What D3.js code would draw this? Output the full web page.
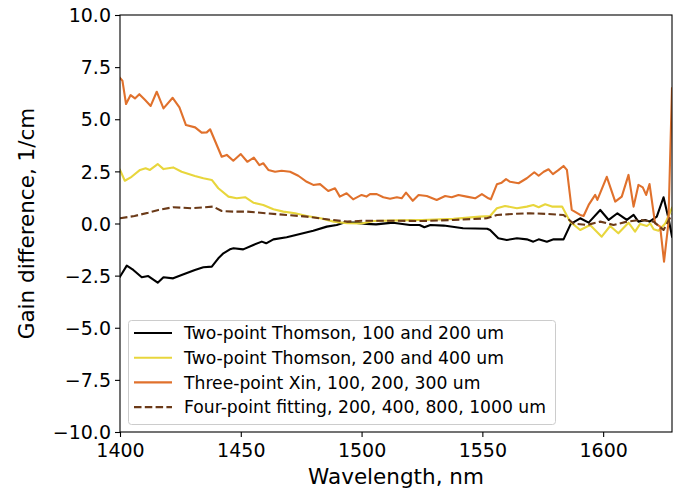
<!DOCTYPE html>
<html><head><meta charset="utf-8">
<script src="https://cdn.jsdelivr.net/npm/d3@7"></script>
<style>body{margin:0;background:#fff}svg{display:block}text{font-family:"DejaVu Sans",sans-serif}</style>
</head><body><svg id="c" width="689" height="491"></svg>
<script>
const xTicks=[1400,1450,1500,1550,1600];
const yTicks=[-10,-7.5,-5,-2.5,0,2.5,5,7.5,10];
const seriesNames=["Two-point Thomson, 100 and 200 um","Two-point Thomson, 200 and 400 um","Three-point Xin, 100, 200, 300 um","Four-point fitting, 200, 400, 800, 1000 um"];
const seriesColors=["#000000","#e8d63c","#e0712c","#6b3a18"];

const blackX=[1400,1402.8,1405.5,1409,1411.7,1415.6,1418,1422,1425.5,1431,1434.5,1438,1440.7,1442.8,1445.5,1447,1451,1455.2,1458.7,1460.5,1463.5,1469,1474.5,1480,1485.6,1489.7,1492.5,1497,1502,1506,1513,1520,1524,1526,1528.5,1534,1542,1552,1553.2,1556.6,1560.1,1564.3,1568.4,1571.1,1573.3,1576.7,1579.5,1583.6,1586.6,1590.5,1594,1598.8,1602.3,1605.9,1609.8,1612.6,1614.6,1617.4,1619.2,1622.2,1625,1627.2,1628.5];
const blackY=[-2.55,-2.02,-2.23,-2.58,-2.52,-2.84,-2.58,-2.63,-2.47,-2.23,-2.1,-2.07,-1.67,-1.43,-1.24,-1.19,-1.24,-1.03,-0.87,-0.95,-0.76,-0.66,-0.5,-0.35,-0.15,-0.07,0.04,0.04,-0.02,-0.04,0.04,-0.07,-0.07,-0.18,-0.07,-0.1,-0.23,-0.25,-0.31,-0.71,-0.79,-0.71,-0.76,-0.87,-0.76,-0.87,-0.76,-0.76,-0.02,0.25,0.04,0.65,0.17,0.49,0.17,0.41,0.09,0.17,0.09,0.33,1.26,0.17,-0.63];

const yellowX=[1400,1402,1404.8,1408.3,1410.6,1412.4,1415.6,1418,1422,1425.5,1431,1434.5,1438,1440.7,1444.9,1448.3,1451.8,1455.2,1459.3,1463.5,1467.6,1472.5,1477.3,1483,1488.5,1494,1500,1505,1515,1525,1538,1549,1553.2,1556,1559.4,1564.3,1568.4,1571.1,1573.3,1576,1578.8,1583,1586.3,1590.5,1594.6,1599.4,1602.9,1606.3,1610.5,1613.2,1615.3,1618.1,1619.5,1620.9,1622.9,1625.7,1628.5];
const yellowY=[2.57,2.05,2.24,2.57,2.65,2.57,2.85,2.61,2.69,2.48,2.28,2.17,2.09,1.69,1.29,1.21,1.26,1.0,0.89,0.68,0.57,0.49,0.36,0.25,0.09,0.01,0.0,0.12,0.15,0.17,0.22,0.33,0.36,0.73,0.84,0.73,0.81,0.89,0.78,0.92,0.81,0.81,0.09,-0.31,-0.07,-0.63,-0.12,-0.47,0.04,-0.39,-0.02,-0.12,0.0,-0.28,-0.35,0.0,0.75];

const orangeX=[1400,1401,1402.5,1404.4,1406.2,1408,1410.4,1412.7,1415.2,1418,1421.8,1424.6,1427.3,1431.1,1433.8,1435.9,1437.3,1442.1,1444.2,1446.9,1450,1452.7,1455.4,1457.7,1459.3,1461.4,1464.2,1466.9,1470.4,1473.8,1477.3,1480,1482.8,1486.2,1489,1491,1493.8,1496.5,1500,1502,1503.5,1506.3,1509,1511.8,1514.6,1516.6,1518.4,1521.2,1523.6,1527,1531.1,1534.6,1537.3,1540.1,1543.5,1547,1549.8,1552.5,1553.5,1556,1558,1559.8,1561.5,1565,1568.4,1571.5,1573.3,1575.4,1577.4,1579.2,1581.6,1583.6,1585,1587,1590.5,1591.9,1594,1596.7,1597.6,1601.5,1605,1607.7,1610.5,1612.6,1614.6,1616.4,1617.8,1619.2,1621.5,1623.6,1625.2,1627,1628.5];
const orangeY=[6.98,6.85,5.73,6.16,6.0,6.2,5.92,5.64,6.32,5.52,6.03,5.57,4.72,4.61,4.36,4.37,4.52,3.2,3.29,3.01,3.33,2.96,3.16,2.8,2.89,2.57,2.48,2.53,2.48,2.29,2.0,1.85,1.89,1.56,1.69,1.29,1.45,1.16,1.37,1.29,1.41,1.41,1.26,1.19,1.26,1.21,1.48,1.09,1.37,1.32,1.13,1.32,1.26,1.37,1.29,1.21,1.41,1.21,1.16,1.88,1.96,2.13,2.0,1.93,2.17,2.46,2.29,2.48,2.6,2.37,2.57,2.76,2.57,0.65,0.41,0.36,0.89,1.37,1.13,2.24,1.05,1.29,2.33,0.81,1.85,1.73,1.37,1.89,0.01,-0.15,-1.83,0.0,6.48];

const brownX=[1400,1406,1411.7,1415.9,1422,1429.7,1438.6,1442.1,1447,1452.5,1460.7,1469,1477.3,1485.6,1494,1500,1513,1525,1538,1551.8,1556,1562.9,1569.8,1576.7,1583.6,1587.7,1593.3,1598.8,1604.3,1609.8,1615.3,1620.9,1625,1628.5];
const brownY=[0.25,0.36,0.52,0.65,0.78,0.73,0.81,0.6,0.57,0.57,0.49,0.41,0.33,0.2,0.09,0.13,0.13,0.12,0.17,0.25,0.41,0.46,0.49,0.46,0.41,0.0,-0.07,0.09,-0.07,0.09,0.17,0.09,-0.31,0.45];

const seriesX=[blackX,yellowX,orangeX,brownX];
const seriesY=[blackY,yellowY,orangeY,brownY];
const dashes=[null,null,null,"7.5,3.3"];

const svg=d3.select("#c");
const L=120,R=672,T=15,B=432;
const x=d3.scaleLinear().domain([1400,1628.5]).range([L,R]);
const y=d3.scaleLinear().domain([-10,10]).range([B,T]);
const fmt=d=>d3.format(".1f")(d).replace("-","\u2212");

svg.append("clipPath").attr("id","cp").append("rect").attr("x",L).attr("y",T).attr("width",R-L).attr("height",B-T);
const line=d3.line().x(d=>x(d[0])).y(d=>y(d[1]));
seriesX.forEach((xs,i)=>{
  const pts=xs.map((v,j)=>[v,seriesY[i][j]]);
  svg.append("path").attr("d",line(pts)).attr("fill","none").attr("stroke",seriesColors[i])
    .attr("stroke-width",2.1).attr("stroke-linejoin","round").attr("stroke-linecap",dashes[i]?"butt":"square")
    .attr("stroke-dasharray",dashes[i]).attr("clip-path","url(#cp)");
});

const xa=svg.append("g").attr("transform",`translate(0,${B})`).call(d3.axisBottom(x).tickValues(xTicks).tickFormat(d3.format("d")).tickSize(5).tickPadding(4));
const ya=svg.append("g").attr("transform",`translate(${L},0)`).call(d3.axisLeft(y).tickValues(yTicks).tickFormat(fmt).tickSize(5).tickPadding(4));
[xa,ya].forEach(a=>{a.select(".domain").remove();a.selectAll("line").attr("stroke","#000").attr("stroke-width",1.1);a.selectAll("text").attr("font-size",19).attr("fill","#000").attr("font-family","DejaVu Sans");});
xa.selectAll("text").attr("dy","0.85em");
ya.selectAll("text").attr("dy","0.35em");

svg.append("rect").attr("x",L).attr("y",T).attr("width",R-L).attr("height",B-T).attr("fill","none").attr("stroke","#000").attr("stroke-width",1.1);

svg.append("text").attr("x",(L+R)/2).attr("y",484).attr("text-anchor","middle").attr("font-size",21.5).text("Wavelength, nm");
svg.append("text").attr("transform",`translate(34,${(T+B)/2}) rotate(-90)`).attr("text-anchor","middle").attr("font-size",21.5).text("Gain difference, 1/cm");

const lg=svg.append("g");
lg.append("rect").attr("x",128.5).attr("y",320.5).attr("width",427).attr("height",104).attr("rx",3).attr("fill","#fff").attr("fill-opacity",0.8).attr("stroke","#ccc");
seriesNames.forEach((n,i)=>{
  const yy=333+i*24.7;
  lg.append("line").attr("x1",134).attr("x2",172).attr("y1",yy).attr("y2",yy).attr("stroke",seriesColors[i]).attr("stroke-width",2.1).attr("stroke-dasharray",dashes[i]);
  lg.append("text").attr("x",184).attr("y",yy).attr("dy","0.36em").attr("font-size",17.2).text(n);
});
</script></body></html>
